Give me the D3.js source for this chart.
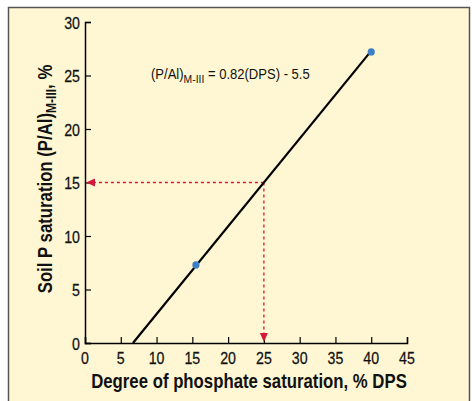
<!DOCTYPE html>
<html>
<head>
<meta charset="utf-8">
<script src="https://cdn.jsdelivr.net/npm/d3@7"></script>
<style>
  body { margin: 0; background: #fff; }
  svg { display: block; font-family: "Liberation Sans Narrow", "Liberation Sans", Arial, sans-serif; }
</style>
</head>
<body>
<div id="chart"></div>
<script>
// data
const xTicks = [0, 5, 10, 15, 20, 25, 30, 35, 40, 45];
const yTicks = [0, 5, 10, 15, 20, 25, 30];
const pointsX = [15.5, 40];
const pointsY = [7.3, 27.2];
const fitLineX = [6.7, 40];
const fitLineY = [0, 27.3];
const readX = 25;
const readY = 15;

const W = 472, H = 401;
const margin = { top: 22, right: 65, bottom: 58, left: 85 };
const height = H - margin.top - margin.bottom;

// condensed look: the narrow face is not installed, so squeeze horizontally
const sq = (px, py, sx, rot) => `translate(${px},${py})${rot ? ` rotate(${rot})` : ""} scale(${sx},1)`;

const svg = d3.select("#chart").append("svg")
  .attr("width", W).attr("height", H);

// panel
svg.append("rect")
  .attr("x", 8.5).attr("y", 7.5).attr("width", 461).attr("height", 400)
  .attr("fill", "#fff7d3").attr("stroke", "#555").attr("stroke-width", 1.5);

const g = svg.append("g").attr("transform", `translate(${margin.left},${margin.top})`);

const x = d3.scaleLinear().domain([0, 45]).range([0, 322]);
const y = d3.scaleLinear().domain([0, 30]).range([height, 0]);

// axes
const xAxis = g.append("g").attr("transform", `translate(0,${height})`)
  .call(d3.axisTop(x).tickValues(xTicks).tickSize(6).tickFormat(""));
xAxis.select(".domain").attr("stroke-width", 1.5);
xAxis.selectAll(".tick line").attr("stroke-width", 1.2);
g.append("g").selectAll("text").data(xTicks).enter().append("text")
  .attr("transform", d => sq(x(d), height + 21, 0.86))
  .attr("text-anchor", "middle").attr("font-size", 16.5).attr("fill", "#111")
  .attr("stroke", "#111").attr("stroke-width", 0.25)
  .text(d => d);

const yAxis = g.append("g")
  .call(d3.axisRight(y).tickValues(yTicks).tickSize(6).tickFormat(""));
yAxis.select(".domain").attr("stroke-width", 1.5);
yAxis.selectAll(".tick line").attr("stroke-width", 1.2);
g.append("g").selectAll("text").data(yTicks).enter().append("text")
  .attr("transform", d => sq(-5, y(d) + 6.5, 0.86))
  .attr("text-anchor", "end").attr("font-size", 16.5).attr("fill", "#111")
  .attr("stroke", "#111").attr("stroke-width", 0.25)
  .text(d => d);

// titles
svg.append("text")
  .attr("transform", sq(249, 388, 0.86))
  .attr("text-anchor", "middle").attr("font-size", 19.5).attr("font-weight", "bold").attr("fill", "#111")
  .text("Degree of phosphate saturation, % DPS");

const yt = svg.append("text")
  .attr("transform", sq(52, 179, 0.86, -90))
  .attr("text-anchor", "middle").attr("font-size", 19.5).attr("font-weight", "bold").attr("fill", "#111");
yt.append("tspan").text("Soil P saturation (P/Al)");
yt.append("tspan").attr("dy", 4).attr("font-size", 14).text("M-III");
yt.append("tspan").attr("dy", -4).text(", %");

// equation
const eq = svg.append("text")
  .attr("transform", sq(151, 79, 0.9)).attr("font-size", 14.5).attr("fill", "#111");
eq.append("tspan").text("(P/Al)");
eq.append("tspan").attr("dy", 4).attr("font-size", 11.5).text("M-III");
eq.append("tspan").attr("dy", -4).text(" = 0.82(DPS) - 5.5");

// dashed read-off lines
const red = "#d4183c";
g.append("line")
  .attr("x1", x(readX)).attr("y1", y(readY)).attr("x2", x(0) + 8).attr("y2", y(readY))
  .attr("stroke", red).attr("stroke-width", 1.3).attr("stroke-dasharray", "3,3");
g.append("line")
  .attr("x1", x(readX)).attr("y1", y(readY)).attr("x2", x(readX)).attr("y2", y(0) - 8)
  .attr("stroke", red).attr("stroke-width", 1.3).attr("stroke-dasharray", "3,3");
g.append("path")
  .attr("d", `M${x(0) + 1},${y(readY)} l9,-4 l0,8 z`).attr("fill", red);
g.append("path")
  .attr("d", `M${x(readX)},${y(0) - 1} l-4,-9 l8,0 z`).attr("fill", red);

// fit line
g.append("path")
  .datum(fitLineX.map((d, i) => [d, fitLineY[i]]))
  .attr("fill", "none").attr("stroke", "#000").attr("stroke-width", 2.2)
  .attr("d", d3.line().x(d => x(d[0])).y(d => y(d[1])));

// points
g.selectAll("circle").data(pointsX).enter().append("circle")
  .attr("cx", d => x(d)).attr("cy", (d, i) => y(pointsY[i])).attr("r", 3.6)
  .attr("fill", "#3d7fc4");
</script>
</body>
</html>
